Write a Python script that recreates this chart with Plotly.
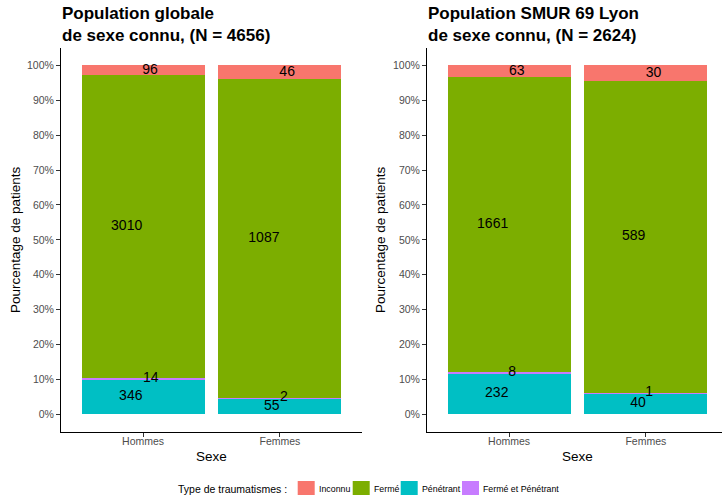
import plotly.graph_objects as go

# ---------------- data ----------------
sexes = ["Hommes", "Femmes"]
types = ["Pénétrant", "Fermé et Pénétrant", "Fermé", "Inconnu"]  # stack order, bottom -> top
legend_order = ["Inconnu", "Fermé", "Pénétrant", "Fermé et Pénétrant"]
legend_title = "Type de traumatismes :"

global_penetrant = [346, 55]
global_ferme_pen = [14, 2]
global_ferme = [3010, 1087]
global_inconnu = [96, 46]

smur_penetrant = [232, 40]
smur_ferme_pen = [8, 1]
smur_ferme = [1661, 589]
smur_inconnu = [63, 30]

title_global = "Population globale<br>de sexe connu, (N = 4656)"
title_smur = "Population SMUR 69 Lyon<br>de sexe connu, (N = 2624)"
y_title = "Pourcentage de patients"
x_title = "Sexe"

y_ticks = [0, 10, 20, 30, 40, 50, 60, 70, 80, 90, 100]
y_tick_labels = [f"{v}%" for v in y_ticks]

# ---------------- style ----------------
colors = {"Inconnu": "#F8766D", "Fermé": "#7CAE00",
          "Pénétrant": "#00BFC4", "Fermé et Pénétrant": "#C77CFF"}
FONT = "Liberation Sans, Arial, sans-serif"
# horizontal label jitter (category units), per panel / type / sex
jitter_global = {"Pénétrant": [-0.09, -0.06], "Fermé et Pénétrant": [0.056, 0.03],
                 "Fermé": [-0.12, -0.117], "Inconnu": [0.05, 0.053]}
jitter_smur = {"Pénétrant": [-0.09, -0.058], "Fermé et Pénétrant": [0.022, 0.024],
               "Fermé": [-0.12, -0.09], "Inconnu": [0.056, 0.056]}

W, H = 722, 495
def px_x(p): return p / W
def px_y(p): return (H - p) / H

panels = [
    dict(counts={"Pénétrant": global_penetrant, "Fermé et Pénétrant": global_ferme_pen,
                 "Fermé": global_ferme, "Inconnu": global_inconnu},
         jitter=jitter_global, title=title_global, xa="x", ya="y",
         dom=[px_x(61), px_x(362)], xrange=[0.4, 2.6]),
    dict(counts={"Pénétrant": smur_penetrant, "Fermé et Pénétrant": smur_ferme_pen,
                 "Fermé": smur_ferme, "Inconnu": smur_inconnu},
         jitter=jitter_smur, title=title_smur, xa="x2", ya="y2",
         dom=[px_x(427), 1.0], xrange=[0.4, 0.4 + 295 / 136.8]),
]

fig = go.Figure()
xpos = [1, 2]
for pi, p in enumerate(panels):
    counts = p["counts"]
    totals = [sum(counts[t][i] for t in types) for i in range(2)]
    cum = [0.0, 0.0]
    for t in types:
        pct = [100.0 * counts[t][i] / totals[i] for i in range(2)]
        fig.add_trace(go.Bar(
            x=xpos, y=pct, name=t, marker=dict(color=colors[t], line=dict(width=0)),
            width=0.9, xaxis=p["xa"], yaxis=p["ya"], showlegend=False,
            hoverinfo="skip"))
        mids = [cum[i] + pct[i] / 2 for i in range(2)]
        fig.add_trace(go.Scatter(
            x=[xpos[i] + p["jitter"][t][i] for i in range(2)], y=mids,
            text=[str(v) for v in counts[t]], mode="text",
            textfont=dict(family=FONT, size=14, color="black"),
            xaxis=p["xa"], yaxis=p["ya"], showlegend=False, hoverinfo="skip"))
        cum = [cum[i] + pct[i] for i in range(2)]

ydom = [px_y(431.7), px_y(48)]
axis_common = dict(showline=True, linecolor="black", linewidth=1, showgrid=False,
                   zeroline=False, ticks="outside", ticklen=4, tickcolor="#333333",
                   tickwidth=1, tickfont=dict(family=FONT, size=10.5, color="#4D4D4D"))
fig.update_layout(
    xaxis=dict(domain=panels[0]["dom"], range=panels[0]["xrange"], tickvals=xpos,
               ticktext=sexes, anchor="y", ticklabelstandoff=-4, **axis_common),
    yaxis=dict(domain=ydom, range=[-5, 105], tickvals=y_ticks, ticktext=y_tick_labels,
               anchor="x", **axis_common),
    xaxis2=dict(domain=panels[1]["dom"], range=panels[1]["xrange"], tickvals=xpos,
                ticktext=sexes, anchor="y2", ticklabelstandoff=-4, **axis_common),
    yaxis2=dict(domain=ydom, range=[-5, 105], tickvals=y_ticks, ticktext=y_tick_labels,
                anchor="x2", **axis_common),
    barmode="stack",
    width=W, height=H, margin=dict(l=0, r=0, t=0, b=0, autoexpand=False),
    plot_bgcolor="white", paper_bgcolor="white",
    font=dict(family=FONT, color="black"),
    showlegend=False,
)

annotations = []
shapes = []
for p, left, ytitle_x, sexe_x in [(panels[0], 61, 15, 211.5), (panels[1], 427, 380, 577.5)]:
    annotations.append(dict(text=f"<b>{p['title']}</b>", x=px_x(left - 1), y=px_y(24.5),
                            xref="paper", yref="paper", xanchor="left", yanchor="middle",
                            align="left", showarrow=False,
                            font=dict(family=FONT, size=17, color="black")))
    annotations.append(dict(text=y_title, x=px_x(ytitle_x), y=px_y(240),
                            xref="paper", yref="paper", xanchor="center", yanchor="middle",
                            textangle=-90, showarrow=False,
                            font=dict(family=FONT, size=13.5, color="black")))
    annotations.append(dict(text=x_title, x=px_x(sexe_x), y=px_y(456),
                            xref="paper", yref="paper", xanchor="center", yanchor="middle",
                            showarrow=False, font=dict(family=FONT, size=13.5, color="black")))

# ---- legend (ggplot-style, bottom) ----
leg_y = 489.5
key_left = {"Inconnu": 297.7, "Fermé": 352.7, "Pénétrant": 400.7, "Fermé et Pénétrant": 462}
key_size = 17
annotations.append(dict(text=legend_title, x=px_x(289), y=px_y(leg_y - 0.5),
                        xref="paper", yref="paper", xanchor="right", yanchor="middle",
                        showarrow=False, font=dict(family=FONT, size=10.5, color="black")))
for t in legend_order:
    x0 = key_left[t]
    shapes.append(dict(type="rect", xref="paper", yref="paper",
                       x0=px_x(x0), x1=px_x(x0 + key_size),
                       y0=px_y(leg_y - key_size / 2), y1=px_y(leg_y + key_size / 2),
                       fillcolor=colors[t], line=dict(width=0)))
    annotations.append(dict(text=t, x=px_x(x0 + key_size + 2), y=px_y(leg_y - 0.5),
                            xref="paper", yref="paper", xanchor="left", yanchor="middle",
                            showarrow=False, font=dict(family=FONT, size=8.8, color="black")))

fig.update_layout(annotations=annotations, shapes=shapes)

fig.write_html("out.html",
               config={"displayModeBar": False},
               post_script="document.body.style.margin='0px';")
